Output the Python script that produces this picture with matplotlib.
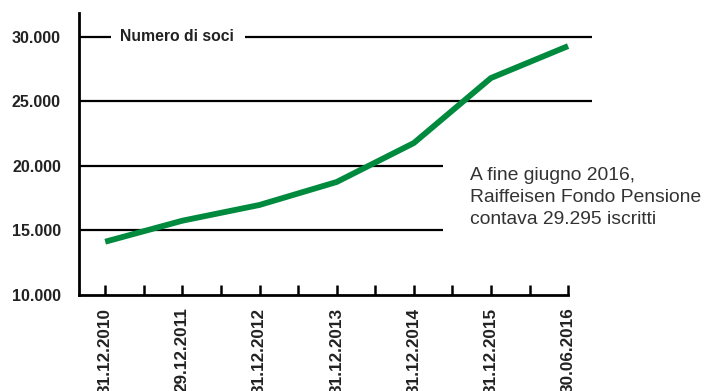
import matplotlib
matplotlib.use("Agg")
import matplotlib.pyplot as plt
import numpy as np

# numero di soci per data
dates = ["31.12.2010", "29.12.2011", "31.12.2012", "31.12.2013",
         "31.12.2014", "31.12.2015", "30.06.2016"]
members = [14130, 15760, 16980, 18760, 21780, 26820, 29295]
y_ticks = [10000, 15000, 20000, 25000, 30000]
y_labels = ["10.000", "15.000", "20.000", "25.000", "30.000"]
title = "Numero di soci"
note = "A fine giugno 2016,\nRaiffeisen Fondo Pensione\ncontava 29.295 iscritti"

GREEN = "#008a3e"
INK = "#222222"

plt.rcParams["font.family"] = ["Liberation Sans", "DejaVu Sans"]

fig = plt.figure(figsize=(7.06, 3.91), dpi=100)
ax = fig.add_axes([79 / 706, 1 - 295 / 391, (592 - 79) / 706, (295 - 13) / 391])

x = np.arange(len(dates))
ax.plot(x, members, color=GREEN, lw=4.2, solid_capstyle="butt", zorder=3)

# grid lines: long ones at the top, short ones below the note
ax.hlines([25000], -0.34, 6.31, color="black", lw=1.6, zorder=1)
ax.hlines([30000, 30000], [-0.34, 1.81], [0.08, 6.31], color="black", lw=1.6, zorder=1)
ax.hlines([15000, 20000], -0.34, 4.38, color="black", lw=1.6, zorder=1)

ax.text(0.19, 30000, title, ha="left", va="center", fontsize=11.3,
        fontweight="bold", color=INK)
ax.text(4.73, 19950, note, ha="left", va="top", fontsize=13.9, color="#333333",
        linespacing=1.4)

ax.set_xlim(-0.34, 6.31)
ax.set_ylim(10000, 31860)

ax.set_yticks(y_ticks)
ax.set_yticklabels(y_labels, fontsize=11.5, fontweight="bold", color=INK)
ax.tick_params(axis="y", length=0, pad=13)

ax.set_xticks(x)
ax.set_xticks(x[:-1] + 0.5, minor=True)
ax.set_xticklabels(dates, rotation=90, fontsize=12.3, fontweight="bold",
                   color=INK, va="top")
ax.tick_params(axis="x", which="both", direction="in", length=7, width=1.8,
               pad=9)

for s in ["top", "right"]:
    ax.spines[s].set_visible(False)
ax.spines["left"].set_linewidth(2)
ax.spines["bottom"].set_linewidth(2)
ax.spines["bottom"].set_bounds(-0.34, 6)

fig.savefig("out.png", dpi=100)
